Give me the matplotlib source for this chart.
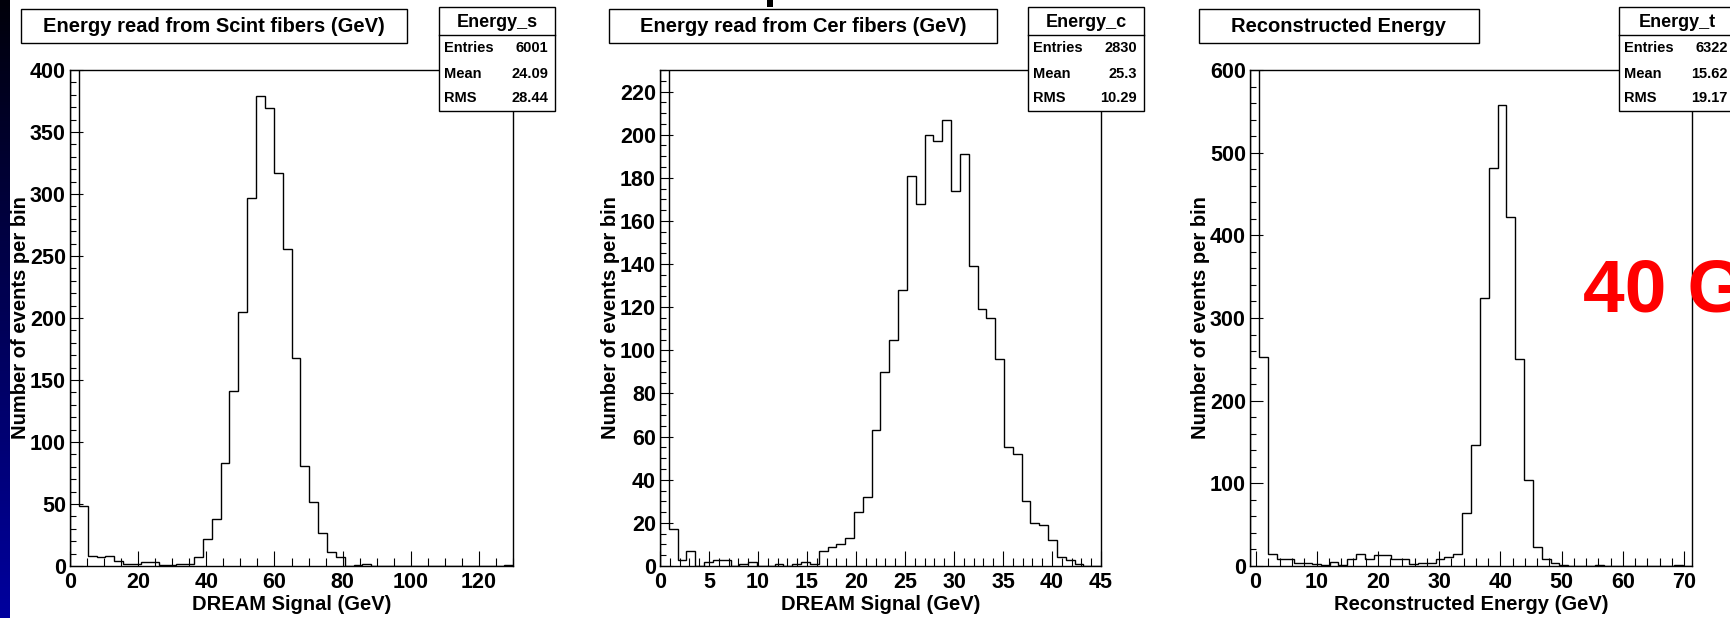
import numpy as np
import matplotlib
matplotlib.use("Agg")
import matplotlib.pyplot as plt
from matplotlib.patches import Rectangle
from matplotlib.lines import Line2D
from matplotlib.ticker import MultipleLocator

W, H = 1731, 618
plt.rcParams['font.family'] = ['Liberation Sans', 'DejaVu Sans']
plt.rcParams['font.weight'] = 'bold'

# --- data (counts per bin, 50 bins each) ---
scint_range = (0, 130)
scint_counts = [3446, 48, 8, 7, 8, 4, 2, 2, 3, 3, 1, 1, 2, 2, 7, 22, 38, 83, 141, 205,
                297, 379, 369, 317, 256, 168, 81, 52, 27, 11, 7, 0, 1, 2, 0, 0, 0, 0, 0, 0,
                0, 0, 0, 0, 0, 0, 0, 0, 0, 1]

cer_range = (0, 45)
cer_counts = [322, 17, 3, 7, 0, 2, 3, 3, 0, 1, 2, 0, 0, 1, 0, 1, 2, 1, 7, 9,
              10, 13, 25, 32, 63, 90, 105, 128, 181, 168, 200, 197, 207, 174, 191, 139, 119, 115, 96, 55,
              52, 30, 20, 19, 12, 4, 3, 1, 0, 0]

tot_range = (-0.9, 71.3)
tot_counts = [3517, 253, 14, 8, 9, 4, 4, 2, 1, 5, 1, 8, 15, 8, 13, 13, 8, 8, 2, 4,
              4, 8, 11, 15, 64, 146, 324, 481, 558, 422, 250, 104, 23, 8, 4, 1, 0, 0, 0, 1,
              0, 0, 0, 0, 0, 0, 0, 0, 1, 0]

titles = ["Energy read from Scint fibers (GeV)", "Energy read from Cer fibers (GeV)", "Reconstructed Energy"]
xlabels = ["DREAM Signal (GeV)", "DREAM Signal (GeV)", "Reconstructed Energy (GeV)"]
hist_names = ["Energy_s", "Energy_c", "Energy_t"]
entries = ["6001", "2830", "6322"]
means = ["24.09", "25.3", "15.62"]
rms = ["28.44", "10.29", "19.17"]


def fx(x):
    return x / W


def fy(y):
    return 1 - y / H


def box(x0, y0, x1, y1):
    fig.patches.append(Rectangle((fx(x0), fy(y1)), (x1 - x0) / W, (y1 - y0) / H,
                                 transform=fig.transFigure, facecolor='white',
                                 edgecolor='black', lw=1.0, zorder=5))


fig = plt.figure(figsize=(W / 100, H / 100), dpi=100)
fig.patch.set_facecolor('white')

# blue slide border on the left
ax_bg = fig.add_axes([0, 0, 10 / W, 1])
grad = np.linspace(0, 1, 200)
img = np.zeros((200, 1, 3))
img[:, 0, 2] = 0.04 + 0.58 * grad
ax_bg.imshow(img, aspect='auto', extent=[0, 1, 0, 1], origin='upper')
ax_bg.axis('off')

# piece of slide title at the top
fig.patches.append(Rectangle((fx(767), fy(7)), 6 / W, 7 / H, transform=fig.transFigure,
                             facecolor='black', edgecolor='none'))

panels = [
    dict(counts=scint_counts, rng=scint_range, xl=(70, 513), ylim=400, xmaj=20, xmin=5, ymaj=50, ymin=10,
         tbox=(21, 9, 407, 43), sbox=(439, 7, 555, 111)),
    dict(counts=cer_counts, rng=cer_range, xl=(660, 1101), ylim=230, xmaj=5, xmin=1, ymaj=20, ymin=5,
         tbox=(609, 9, 997, 43), sbox=(1028, 7, 1144, 111)),
    dict(counts=tot_counts, rng=tot_range, xl=(1250, 1692), ylim=600, xmaj=10, xmin=2, ymaj=100, ymin=20,
         tbox=(1199, 9, 1479, 43), sbox=(1619, 7, 1735, 111)),
]

top, bottom = 70, 566
for i, p in enumerate(panels):
    l, r = p['xl']
    ax = fig.add_axes([fx(l), fy(bottom), (r - l) / W, (bottom - top) / H])
    edges = np.linspace(p['rng'][0], p['rng'][1], len(p['counts']) + 1)
    ax.stairs(p['counts'], edges, color='black', lw=1.0, baseline=0)
    ax.set_xlim(p['rng'])
    ax.set_ylim(0, p['ylim'])
    ax.xaxis.set_major_locator(MultipleLocator(p['xmaj']))
    ax.xaxis.set_minor_locator(MultipleLocator(p['xmin']))
    ax.yaxis.set_major_locator(MultipleLocator(p['ymaj']))
    ax.yaxis.set_minor_locator(MultipleLocator(p['ymin']))
    ax.tick_params(axis='x', which='major', direction='in', length=11, width=0.8, top=False,
                   labelsize=15.5, pad=4)
    ax.tick_params(axis='x', which='minor', direction='in', length=5.5, width=0.8, top=False)
    ax.tick_params(axis='y', which='major', direction='in', length=9, width=0.8, right=False,
                   labelsize=15.5, pad=3)
    ax.tick_params(axis='y', which='minor', direction='in', length=4.5, width=0.8, right=False)
    for s in ax.spines.values():
        s.set_linewidth(1.0)
    for lab in ax.get_xticklabels() + ax.get_yticklabels():
        lab.set_fontweight('bold')

    # axis titles
    fig.text(fx((l + r) / 2), fy(605), xlabels[i], ha='center', va='center', fontsize=14.5)
    fig.text(fx(l - 49), fy((top + bottom) / 2), "Number of events per bin", rotation=90,
             ha='center', va='center', fontsize=14.5)

    # title box
    x0, y0, x1, y1 = p['tbox']
    box(x0, y0, x1, y1)
    fig.text(fx((x0 + x1) / 2), fy(26.5), titles[i], ha='center', va='center', fontsize=14.5, zorder=6)

    # stats box
    x0, y0, x1, y1 = p['sbox']
    box(x0, y0, x1, y1)
    fig.lines.append(Line2D([fx(x0), fx(x1)], [fy(35), fy(35)], transform=fig.transFigure,
                            color='black', lw=1.0, zorder=6))
    fig.text(fx((x0 + x1) / 2), fy(22.5), hist_names[i], ha='center', va='center', fontsize=13, zorder=6)
    for yy, name, val in [(47.5, "Entries", entries[i]), (73.5, "Mean", means[i]), (98.5, "RMS", rms[i])]:
        fig.text(fx(x0 + 5), fy(yy), name, ha='left', va='center', fontsize=10.5, zorder=6)
        fig.text(fx(x1 - 7), fy(yy), val, ha='right', va='center', fontsize=10.5, zorder=6)

# red energy label (cut off by the slide edge, as in the original)
fig.text(fx(1583), fy(311), "40 GeV", color='#ff0000', fontsize=54, ha='left', va='baseline', zorder=10)

fig.savefig("out.png", dpi=100, facecolor='white')
